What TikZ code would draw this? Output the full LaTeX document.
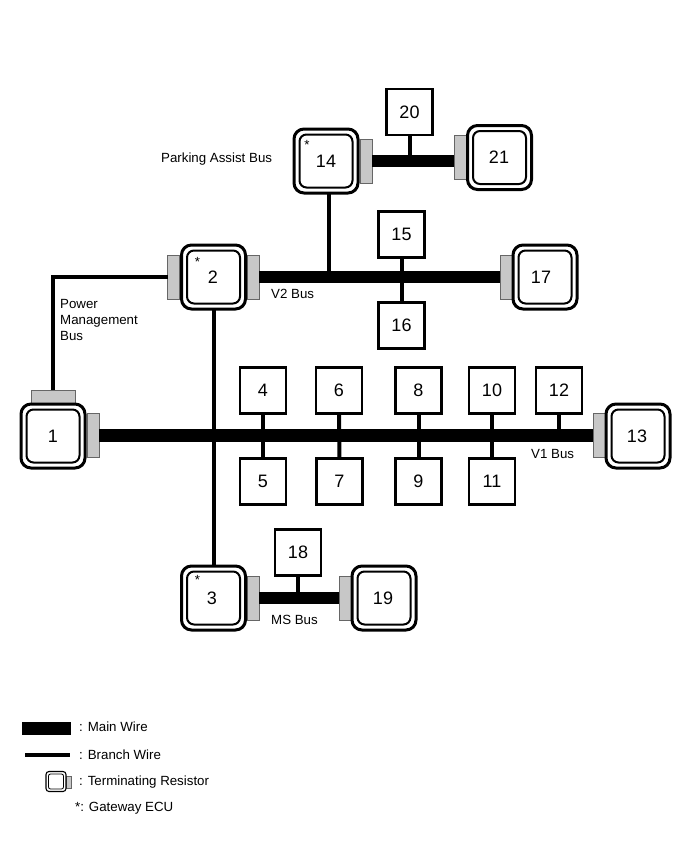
\documentclass[tikz,border=0pt]{standalone}
\usepackage{fontspec}
\setmainfont{Liberation Sans}
\tikzset{
  ecuouter/.style={draw=black,fill=white,line width=3pt,rounded corners=10pt,minimum size=64pt,inner sep=0pt,outer sep=0pt},
  ecuinner/.style={draw=black,fill=white,line width=2pt,rounded corners=7pt,minimum size=53pt,inner sep=0pt,outer sep=0pt},
  resv/.style={draw=black!60,line width=.6pt,fill=black!22,minimum width=12pt,minimum height=44pt,inner sep=0pt,outer sep=0pt},
  resh/.style={draw=black!60,line width=.6pt,fill=black!22,minimum width=44pt,minimum height=13pt,inner sep=0pt,outer sep=0pt},
  unit/.style={draw=black,fill=white,line width=2.2pt,minimum size=46pt,inner sep=0pt,outer sep=0pt,font=\fontsize{18}{18}\selectfont},
  mainwire/.style={line width=12.5pt,black},
  branchwire/.style={line width=4pt,black},
  numtext/.style={inner sep=0pt,font=\fontsize{18}{18}\selectfont},
  lab/.style={inner sep=0pt,anchor=west,font=\fontsize{13.3}{16}\selectfont},
  star/.style={inner sep=0pt,font=\fontsize{13.3}{13.3}\selectfont}
}
% ECU drawn as a double rounded frame: \ecu{name}{x}{y}{label}{label x}
\newcommand{\ecu}[5]{%
  \node[ecuouter] (#1) at (#2,#3) {};
  \node[ecuinner] (#1in) at (#2,#3) {};
  \node[numtext] (#1num) at (#5,#3) {#4};
}
\begin{document}
\begin{tikzpicture}[x=1pt,y=-1pt]
\useasboundingbox (0,0) rectangle (691,854);
\fill[white] (0,0) rectangle (691,854);

% terminating resistors
\node[resh] (r1t) at (53,396.5) {};
\node[resv] (r1r) at (93,435.5) {};
\node[resv] (r13) at (599,435.5) {};
\node[resv] (r2l) at (173.5,277) {};
\node[resv] (r2r) at (253,277) {};
\node[resv] (r17) at (506,277) {};
\node[resv] (r14) at (366,161) {};
\node[resv] (r21) at (460,157) {};
\node[resv] (r3) at (253,598) {};
\node[resv] (r19) at (345,598) {};

% ECUs with resistors
\ecu{e1}{53}{436}{1}{53}
\ecu{e2}{213.5}{277}{2}{213}
\ecu{e3}{213.5}{598}{3}{212}
\ecu{e13}{638}{436}{13}{637}
\ecu{e14}{326}{161}{14}{326}
\ecu{e17}{545}{277}{17}{541}
\ecu{e19}{384}{598}{19}{383}
\ecu{e21}{499.5}{157.5}{21}{499}

% plain units
\node[unit] (u4) at (263,390.5) {4};
\node[unit] (u5) at (263,481.5) {5};
\node[unit] (u6) at (339,390.5) {6};
\node[unit] (u7) at (339.5,481.5) {7};
\node[unit] (u8) at (418.5,390.5) {8};
\node[unit] (u9) at (418.5,481.5) {9};
\node[unit] (u10) at (492,390.5) {10};
\node[unit] (u11) at (492,481.5) {11};
\node[unit] (u12) at (559,390.5) {12};
\node[unit] (u15) at (401.5,234.5) {15};
\node[unit] (u16) at (401.5,325.5) {16};
\node[unit] (u18) at (298,552.5) {18};
\node[unit] (u20) at (409.5,112) {20};

% main wires
\draw[mainwire] (r1r.east) -- (r13.west);
\draw[mainwire] (r2r.east) -- (r17.west);
\draw[mainwire] (r14.east) -- (r14.east -| r21.west);
\draw[mainwire] (r3.east) -- (r19.west);

% branch wires
\coordinate (j14) at (329,278);
\draw[branchwire] (r1t.north) |- (r2l.west);
\draw[branchwire] (e2.south) -- (e3.north);
\draw[branchwire] (j14 |- e14.south) -- (j14);
\draw[branchwire] (u4.south) -- (u5.north);
\draw[branchwire] (u6.south) -- (u7.north);
\draw[branchwire] (u8.south) -- (u9.north);
\draw[branchwire] (u10.south) -- (u11.north);
\draw[branchwire] (u12.south) -- (u12.south |- r13);
\draw[branchwire] (u15.south) -- (u16.north);
\draw[branchwire] (u18.south) -- (u18.south |- r19);
\draw[branchwire] (u20.south) -- (u20.south |- r21);

% gateway marks
\node[star] (s14) at (307,145) {*};
\node[star] (s2) at (197.5,262) {*};
\node[star] (s3) at (197.5,580) {*};

% bus names
\node[lab] (lpark) at (161,159) {Parking Assist Bus};
\node[lab] (lv2) at (271,294) {V2 Bus};
\node[lab,align=left] (lpm) at (60,320) {Power\\Management\\Bus};
\node[lab] (lv1) at (531,454) {V1 Bus};
\node[lab] (lms) at (271,620) {MS Bus};

% key
\node[fill=black,minimum width=49pt,minimum height=13pt,inner sep=0pt,outer sep=0pt] (kmain) at (46.5,728) {};
\coordinate (kb1) at (25,755);
\coordinate (kb2) at (70,755);
\draw[branchwire] (kb1) -- (kb2);
\node[draw=black!60,line width=.5pt,fill=black!22,minimum width=5pt,minimum height=12pt,inner sep=0pt,outer sep=0pt] (kres) at (68.5,782) {};
\node[draw=black,fill=white,line width=1.1pt,rounded corners=3pt,minimum size=20pt,inner sep=0pt,outer sep=0pt] (kecu) at (56,781.5) {};
\node[draw=black,line width=.8pt,rounded corners=2pt,minimum size=15pt,inner sep=0pt,outer sep=0pt] (kecuin) at (56,781.5) {};
\node[lab] (t1) at (79,727) {: Main Wire};
\node[lab] (t2) at (79,754.5) {: Branch Wire};
\node[lab] (t3) at (79,782.5) {: Terminating Resistor};
\node[lab] (t4) at (75,808.5) {*: Gateway ECU};
\end{tikzpicture}
\end{document}
